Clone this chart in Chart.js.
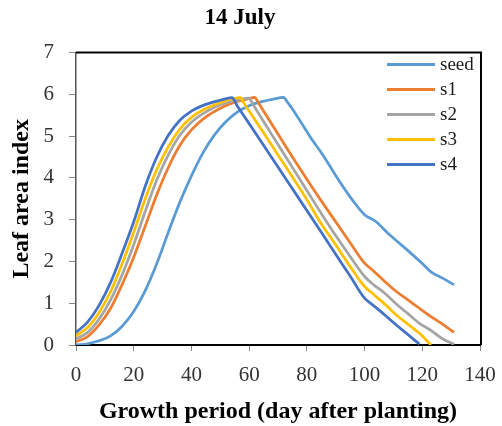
<!DOCTYPE html>
<html>
<head>
<meta charset="utf-8">
<title>14 July</title>
<script src="https://cdn.jsdelivr.net/npm/chart.js@4.4.1/dist/chart.umd.min.js"></script>
<style>
  body { margin: 0; background: #fff; }
  canvas { display: block; }
</style>
</head>
<body>
<canvas id="laiChart" width="502" height="426"></canvas>
<script>
// Leaf area index readings per planting type (day after planting -> LAI)
const seedDays = [0, 4, 8, 12, 16, 20, 24, 28, 32, 36, 40, 44, 48, 52, 56, 60, 64, 68, 72, 73, 75, 81, 86, 91, 96, 100, 104, 108, 112, 116, 120, 123, 127, 131];
const seedLai = [0, 0.03, 0.1, 0.22, 0.45, 0.8, 1.3, 1.95, 2.7, 3.42, 4.05, 4.6, 5.03, 5.35, 5.58, 5.73, 5.82, 5.88, 5.93, 5.84, 5.65, 5.0, 4.5, 3.95, 3.45, 3.12, 2.95, 2.68, 2.44, 2.2, 1.95, 1.75, 1.6, 1.44];

const s1Days = [0, 4, 8, 12, 16, 20, 24, 28, 32, 36, 40, 45, 50, 55, 59, 62, 63, 65, 70, 75, 80, 85, 90, 95, 100, 103, 107, 111, 115, 119, 123, 127, 131];
const s1Lai = [0.08, 0.2, 0.48, 0.88, 1.45, 2.1, 2.85, 3.6, 4.25, 4.78, 5.15, 5.46, 5.67, 5.81, 5.88, 5.93, 5.82, 5.6, 5.05, 4.5, 3.97, 3.45, 2.95, 2.45, 1.96, 1.78, 1.52, 1.28, 1.08, 0.88, 0.68, 0.5, 0.3];

const s2Days = [0, 4, 8, 12, 16, 20, 24, 28, 32, 36, 40, 45, 50, 55, 60, 61, 65, 70, 75, 80, 85, 90, 95, 100, 103, 107, 111, 115, 119, 123, 127, 131];
const s2Lai = [0.15, 0.3, 0.62, 1.08, 1.68, 2.4, 3.2, 3.95, 4.55, 5.02, 5.33, 5.58, 5.75, 5.85, 5.91, 5.8, 5.35, 4.8, 4.25, 3.7, 3.15, 2.62, 2.12, 1.64, 1.45, 1.24, 0.98, 0.75, 0.52, 0.35, 0.15, 0.02];

const s3Days = [0, 4, 8, 12, 16, 20, 24, 28, 32, 36, 40, 45, 50, 57, 58, 60, 65, 70, 75, 80, 85, 90, 95, 100, 103, 107, 111, 115, 119, 123];
const s3Lai = [0.22, 0.42, 0.78, 1.28, 1.95, 2.7, 3.5, 4.2, 4.75, 5.17, 5.45, 5.66, 5.8, 5.92, 5.81, 5.6, 5.08, 4.55, 4.02, 3.48, 2.9, 2.4, 1.88, 1.4, 1.22, 0.98, 0.72, 0.5, 0.28, 0];

const s4Days = [0, 4, 8, 12, 16, 20, 24, 28, 32, 36, 40, 45, 50, 54, 56, 60, 65, 70, 75, 80, 85, 90, 95, 100, 103, 107, 111, 115, 119];
const s4Lai = [0.3, 0.55, 0.95, 1.5, 2.2, 2.95, 3.8, 4.5, 5.02, 5.38, 5.6, 5.76, 5.86, 5.92, 5.71, 5.3, 4.78, 4.26, 3.74, 3.22, 2.7, 2.17, 1.65, 1.12, 0.95, 0.72, 0.48, 0.25, 0.02];

const seriesNames = ['seed', 's1', 's2', 's3', 's4'];
const xTicks = [0, 20, 40, 60, 80, 100, 120, 140];
const yTicks = [0, 1, 2, 3, 4, 5, 6, 7];

// Office-style palette
const colors = {
    seed: '#5B9BD5',
    s1: '#ED7D31',
    s2: '#A5A5A5',
    s3: '#FFC000',
    s4: '#4472C4'
};

const serif = '"Liberation Serif", "Times New Roman", serif';

function toPoints(days, values) {
    return days.map((d, i) => ({ x: d, y: values[i] }));
}

const seriesData = [
    toPoints(seedDays, seedLai),
    toPoints(s1Days, s1Lai),
    toPoints(s2Days, s2Lai),
    toPoints(s3Days, s3Lai),
    toPoints(s4Days, s4Lai)
];

// Box border on top/right plus the legend drawn inside the plot
const frameAndLegend = {
    id: 'frameAndLegend',
    afterDatasetsDraw(chart) {
        const { ctx, chartArea: a } = chart;
        ctx.save();
        ctx.strokeStyle = '#000';
        ctx.lineWidth = 2;
        ctx.beginPath();
        ctx.moveTo(a.left, a.top);
        ctx.lineTo(a.right + 1, a.top);
        ctx.lineTo(a.right + 1, a.bottom);
        ctx.stroke();

        ctx.font = '19px ' + serif;
        ctx.textBaseline = 'middle';
        ctx.textAlign = 'left';
        chart.data.datasets.forEach((ds, i) => {
            const y = a.top + 12 + i * 25;
            ctx.strokeStyle = ds.borderColor;
            ctx.lineWidth = 3;
            ctx.beginPath();
            ctx.moveTo(a.right - 93, y);
            ctx.lineTo(a.right - 45, y);
            ctx.stroke();
            ctx.fillStyle = '#1a1a1a';
            ctx.fillText(ds.label, a.right - 40, y);
        });
        ctx.restore();
    }
};

const ctx = document.getElementById('laiChart').getContext('2d');
new Chart(ctx, {
    type: 'line',
    data: {
        datasets: seriesNames.map((name, i) => ({
            label: name,
            data: seriesData[i],
            borderColor: colors[name],
            backgroundColor: colors[name],
            borderWidth: 2.75,
            pointRadius: 0,
            fill: false,
            cubicInterpolationMode: 'monotone',
            order: seriesNames.length - 1 - i
        }))
    },
    options: {
        responsive: false,
        animation: false,
        layout: { padding: { left: 0, right: 22, top: 0, bottom: 0 } },
        plugins: {
            legend: { display: false },
            tooltip: { enabled: false },
            title: {
                display: true,
                text: '14 July',
                color: '#000',
                font: { family: serif, size: 23, weight: 'bold' },
                padding: { top: 4, bottom: 21 }
            }
        },
        scales: {
            x: {
                type: 'linear',
                min: 0,
                max: 140,
                afterBuildTicks: scale => { scale.ticks = xTicks.map(v => ({ value: v })); },
                afterFit: scale => { scale.height = 81; },
                ticks: {
                    color: '#333',
                    font: { family: serif, size: 21, lineHeight: 1.95 },
                    padding: 4,
                    maxRotation: 0
                },
                grid: { drawOnChartArea: false, drawTicks: true, tickLength: 6, color: '#888' },
                border: { display: true, color: '#000', width: 2 },
                title: {
                    display: true,
                    text: 'Growth period (day after planting)',
                    color: '#000',
                    font: { family: serif, size: 24, weight: 'bold', lineHeight: 1 },
                    padding: { top: 0, bottom: 2 }
                }
            },
            y: {
                min: 0,
                max: 7,
                afterBuildTicks: scale => { scale.ticks = yTicks.map(v => ({ value: v })); },
                afterFit: scale => { scale.width = 76; },
                ticks: {
                    color: '#333',
                    font: { family: serif, size: 21 },
                    padding: 15
                },
                grid: { drawOnChartArea: false, drawTicks: true, tickLength: 7, color: '#888' },
                border: { display: true, color: '#555', width: 1.5 },
                title: {
                    display: true,
                    text: 'Leaf area index',
                    color: '#000',
                    font: { family: serif, size: 24, weight: 'bold', lineHeight: 1 },
                    padding: { top: 10, bottom: 0 }
                }
            }
        }
    },
    plugins: [frameAndLegend]
});
</script>
</body>
</html>
